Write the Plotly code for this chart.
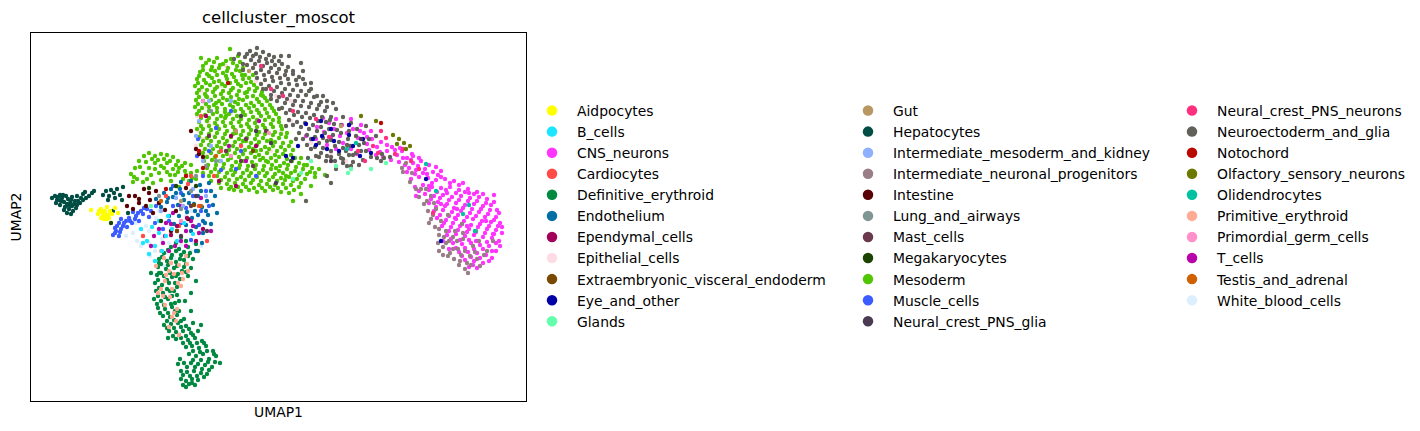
import plotly.graph_objects as go

categories = ["Aidpocytes","B_cells","CNS_neurons","Cardiocytes","Definitive_erythroid","Endothelium","Ependymal_cells","Epithelial_cells","Extraembryonic_visceral_endoderm","Eye_and_other","Glands",
"Gut","Hepatocytes","Intermediate_mesoderm_and_kidney","Intermediate_neuronal_progenitors","Intestine","Lung_and_airways","Mast_cells","Megakaryocytes","Mesoderm","Muscle_cells","Neural_crest_PNS_glia",
"Neural_crest_PNS_neurons","Neuroectoderm_and_glia","Notochord","Olfactory_sensory_neurons","Olidendrocytes","Primitive_erythroid","Primordial_germ_cells","T_cells","Testis_and_adrenal","White_blood_cells"]
colors = ["#FFFF00","#1CE6FF","#FF34FF","#FF4A46","#008941","#006FA6","#A30059","#FFDBE5","#7A4900","#0000A6","#63FFAC",
"#B79762","#004D43","#8FB0FF","#997D87","#5A0007","#809693","#6A3A4C","#1B4400","#4FC601","#3B5DFF","#4A3B53",
"#FF2F80","#61615A","#BA0900","#6B7900","#00C2A0","#FFAA92","#FF90C9","#B903AA","#D16100","#DDEFFF"]

adipocytes = [(67,187),(70,192),(72,186),(74,190),(76,194),(77,186),(79,190),(81,187),(73,182),(76,182),(70,183),(78,183),(68,190),(74,187),(71,189),(75,185),(60,191),(84,193),(87,188)]
b_cells = [(121,174),(128,168),(116,160),(124,155),(131,150),(118,147),(135,165),(141,172),(128,180),(110,172),(146,160),(153,178),(112,158),(137,185),(162,167),(124,140)]
cns_neurons = [(292,283),(298,278),(305,282),(303,272),(311,276),(316,268),(322,272),(327,263),(333,268),(336,257),(341,262),(346,254),(350,259),(356,250),(361,254),(366,246),(371,250),(376,243),(381,247),(345,246),(352,244),(360,241),(368,239),(320,282),(330,276),(340,270),(275,265),(285,262),(296,256),(305,252),(312,258),(320,252),(326,247),
(374,236),(382,238),(390,240),(398,236),(376,229),(385,231),(394,232),(402,229),(410,230),(380,222),(388,224),(397,223),(405,221),(414,222),(423,220),(432,218),(384,214),(392,216),(401,214),(410,213),(419,214),(428,211),(437,212),(446,209),(394,207),(403,205),(412,206),(421,204),(430,205),(439,203),(448,204),(456,202),(398,198),(407,199),(416,197),(425,198),(434,196),(443,197),(452,195),(460,196),(466,191),(403,190),(412,191),(421,189),(430,190),(439,188),(448,189),(457,187),(465,184),(406,183),(415,181),(424,183),(433,180),(442,182),(451,180),(460,179),(469,178),(411,175),(420,174),(429,175),(438,172),(447,174),(456,172),(465,171),(471,168),(416,166),(425,167),(434,165),(443,166),(452,164),(461,163),(468,160),(422,158),(431,157),(440,158),(449,156),(458,155),(465,150),(428,149),(437,149),(446,148),(455,146),(461,143),(434,141),(443,140),(452,138),(438,134),(446,133),(412,160),(418,152),(469,155),(471,174),(463,206),(382,245),(392,228),(407,226),(416,208),(426,192),(436,175),(445,160),(455,180),(462,167),(425,182),(410,197),(398,215),(385,205),
(378,233),(387,235),(396,227),(405,234),(384,227),(401,218),(410,224),(419,218),(428,216),(438,208),(388,210),(398,211),(406,209),(415,211),(425,208),(434,209),(443,207),(452,207),(400,202),(409,203),(418,201),(428,201),(437,200),(446,200),(455,198),(463,199),(405,194),(414,195),(423,193),(432,193),(441,192),(450,192),(459,191),(468,188),(409,186),(418,185),(427,186),(436,184),(445,185),(454,184),(463,181),(413,178),(422,178),(431,177),(440,176),(449,177),(458,175),(467,175),(418,170),(427,171),(436,169),(445,169),(454,168),(463,167),(420,162),(429,161),(438,161),(447,160),(456,159),(465,158),(425,153),(434,153),(443,152),(452,152),(461,150),(431,145),(440,144),(449,143),(458,140),(442,136),(388,243),(356,256),(364,251),(349,249),(338,251),(329,270),(336,264),(318,276),(309,265),(300,264),(293,269),(286,274),(372,243),(380,241),(369,253)]
cardiocytes = [(160,225),(176,160),(148,175),(168,195),(157,217),(190,250),(183,225),(170,285),(210,255),(112,165),(135,205)]
definitive_erythroid = [(150,164),(145,158),(155,160),(140,154),(148,152),(157,154),(165,157),(133,148),(141,146),(150,146),(159,148),(167,150),(128,142),(136,140),(145,139),(153,141),(162,142),(127,134),(135,132),(143,133),(151,130),(160,133),(126,126),(133,125),(141,124),(149,122),(157,125),(124,118),(131,116),(138,118),(146,114),(125,110),(132,108),(139,110),(146,106),(123,102),(130,100),(137,102),(144,98),(127,93),(134,92),(141,94),(148,90),(132,85),(139,84),(146,86),(153,82),(133,76),(140,77),(147,78),(155,75),(162,78),(138,70),(145,69),(152,70),(160,68),(167,70),(145,62),(150,63),(157,61),(164,63),(171,60),(155,54),(161,55),(168,53),(175,55),(182,50),(158,47),(165,45),(172,47),(178,42),(185,45),(189,38),(153,38),(160,38),(167,37),(174,36),(181,34),(150,30),(156,29),(163,30),(170,28),(176,27),(150,22),(155,20),(161,22),(167,21),(152,16),(158,17),(164,16),(147,37),(149,42),(137,63),(170,76),(160,90),(154,100),(160,108),(165,120),(128,128),(120,128),(145,125),(130,137),(153,134),(148,100),
(137,151),(145,150),(153,149),(131,144),(140,143),(149,142),(157,145),(128,138),(137,136),(146,135),(155,137),(130,128),(139,128),(147,127),(155,129),(127,121),(136,121),(144,118),(128,113),(136,112),(143,110),(127,105),(134,104),(141,105),(126,97),(133,96),(140,97),(129,88),(137,88),(144,90),(136,80),(143,81),(150,80),(136,73),(143,73),(150,74),(158,72),(142,65),(148,66),(155,65),(162,66),(152,58),(159,58),(166,58),(173,58),(162,50),(169,49),(176,50),(183,47),(162,41),(170,41),(177,39),(184,39),(156,34),(164,34),(171,32),(178,31),(152,26),(159,25),(166,25),(173,24),(155,14),(161,18)]
endothelium = [(130,194),(136,199),(142,204),(147,196),(153,201),(158,208),(163,197),(167,205),(171,194),(125,202),(133,208),(140,212),(149,212),(156,189),(161,183),(167,186),(174,178),(172,168),(165,174),(148,185),(138,185),(143,177),(176,200),(169,216),(160,220),(150,219),(177,186),(180,210),(182,196),(171,158),(165,150),(160,170),(155,176),(172,180),(184,205),(178,218),(186,188),(180,177),(145,208),(137,203),(152,206),(158,198),(164,190),(170,210),(128,198),(175,190)]
ependymal_cells = [(156,183),(146,175),(165,160),(172,172),(140,166),(200,265),(225,255),(205,215),(175,285),(188,220)]
epithelial_cells = [(168,270),(172,262),(175,295),(166,285),(178,278),(190,315),(200,288),(212,270),(228,290),(245,305),(260,280),(280,258),(300,248),(275,235),(315,240),(170,310),(165,255),(176,245),(183,265),(225,320),(260,300),(240,250),(250,270),(195,335),(165,300),(172,250)]
extraembryonic = [(163,196),(222,250),(146,170)]
eye_and_other = [(285,256),(282,262),(291,265),(296,252),(303,260),(308,250),(300,272),(318,266),(322,255),(332,262),(318,276),(329,245),(255,245),(267,255),(275,277),(410,160),(395,222),(262,243),(290,280),(340,248)]
glands = [(305,235),(317,228),(262,222),(320,232),(280,240),(340,232),(355,238),(270,228),(120,195)]
gut = [(218,330),(150,200),(310,275),(205,270)]
hepatocytes = [(21,203),(24,205),(27,201),(25,198),(29,206),(31,203),(33,199),(29,196),(35,205),(37,202),(39,198),(34,194),(38,192),(42,190),(41,195),(44,200),(41,204),(46,196),(46,205),(50,203),(49,198),(52,207),(55,203),(54,209),(58,205),(61,208),(63,210),(33,191),(36,188),(40,187),(30,200),(45,193),(72,206),(75,210),(78,205),(80,211),(83,208),(86,212),(84,203),(89,206),(91,201),(77,201),(92,214),(82,190),(97,188),(27,204),(32,206),(36,197),(40,201),(43,197),(38,195),(47,200),(52,201),(26,201)]
intermediate_mesoderm = [(168,280),(172,240),(175,205),(165,265),(180,255),(190,240),(162,212),(152,195),(145,203),(130,190),(178,300),(200,300)]
intermediate_neuronal = [(372,229),(379,219),(385,212),(388,204),(393,197),(397,190),(400,182),(404,174),(408,166),(412,154),(417,145),(423,142),(428,136),(434,132),(440,136),(446,142),(430,146),(422,152),(415,170),(410,180),(405,192),(400,205),(412,146),(418,160),(426,160),(434,150),(442,155),(437,128),(449,135),(375,238),(371,233),(424,170),(432,168),(448,160),(456,150),(408,150),(381,228),(395,212),(403,198),(417,186),(431,177),(445,170),(439,145),(453,146),(462,160),(396,200),(402,186),(408,172),(413,164),(419,148),(427,152),(436,138),(444,149),(422,164),(429,140),(415,158),(432,162),(407,158),(398,178),(390,212)]
intestine = [(104,205),(108,198),(113,212),(118,208),(96,195),(102,192),(125,210),(128,198),(134,191),(122,188),(115,195),(145,190),(155,213),(140,170),(168,247),(172,244),(165,252),(157,182),(160,270),(108,202),(119,201),(98,205)]
lung = [(165,225),(175,235),(150,192),(180,290),(160,210),(128,205),(185,240)]
mast_cells = [(195,250),(210,240),(215,262),(222,235),(178,265),(160,195),(235,270)]
megakaryocytes = [(80,178),(130,180),(118,213),(165,215),(145,215)]
mesoderm = [(178,341),(186,343),(195,340),(202,338),(172,335),(181,334),(189,336),(197,333),(206,335),(169,329),(176,327),(184,330),(192,328),(201,327),(209,330),(214,326),(166,322),(173,321),(181,323),(188,320),(196,322),(205,320),(212,322),(220,319),(164,315),(171,314),(179,316),(186,314),(194,315),(202,313),(210,315),(218,312),(226,313),(166,308),(174,307),(182,309),(190,307),(198,308),(206,306),(214,308),(222,305),(230,306),(165,301),(172,300),(180,301),(188,300),(196,301),(204,299),(212,301),(220,298),(228,299),(236,300),(164,294),(171,293),(178,294),(186,293),(194,292),(202,294),(210,292),(218,293),(226,291),(234,292),(241,293),(166,287),(174,286),(182,287),(190,285),(198,287),(206,285),(214,286),(222,284),(230,285),(238,284),(245,287),(168,279),(176,280),(184,278),(192,279),(200,278),(208,279),(216,277),(224,278),(232,276),(240,277),(248,279),(166,272),(172,272),(180,271),(188,272),(196,270),(204,271),(212,270),(220,271),(228,269),(236,270),(244,269),(251,272),(168,264),(176,263),(184,264),(192,263),(200,264),(208,262),(216,263),(224,262),(232,263),(240,261),(248,263),(255,264),(170,256),(178,256),(186,255),(194,257),(202,255),(210,256),(218,254),(226,256),(234,254),(242,255),(250,254),(258,255),(172,248),(180,248),(188,249),(196,247),(204,248),(212,247),(220,248),(228,246),(236,248),(244,246),(252,247),(260,246),(173,240),(181,241),(189,240),(197,241),(205,239),(213,240),(221,239),(229,241),(237,239),(245,240),(253,238),(261,240),(268,238),(276,236),(176,233),(184,232),(192,233),(200,231),(208,233),(216,231),(224,232),(232,231),(240,232),(248,230),(256,232),(264,230),(272,232),(279,229),(178,225),(186,225),(194,224),(202,226),(210,224),(218,225),(226,224),(234,225),(242,224),(250,223),(258,224),(266,222),(274,222),(188,218),(196,217),(204,218),(212,217),(220,218),(228,216),(236,217),(244,216),(252,217),(260,216),(268,214),(203,211),(210,210),(218,211),(226,209),(234,210),(242,211),(250,209),(258,208),(172,228),(180,220),(190,213),(198,212),(170,343),(209,339),(222,326),(232,305),(284,228),(288,232),(294,226),(280,215),(270,207),(262,200),(175,305),(185,298),(195,285),(205,268),(215,260),(225,250),(235,240),(245,233),(255,225),(199,352),(207,345),
(175,338),(183,339),(192,337),(200,342),(172,331),(180,331),(188,333),(196,330),(205,331),(212,333),(168,325),(178,325),(186,326),(195,325),(203,324),(211,326),(218,323),(167,318),(175,318),(183,319),(191,317),(199,318),(207,317),(215,318),(223,316),(168,311),(176,311),(184,312),(192,310),(200,311),(208,310),(216,309),(224,310),(231,309),(168,304),(176,304),(184,305),(192,303),(200,304),(208,302),(216,304),(226,302),(234,303),(167,297),(175,297),(183,296),(191,297),(199,296),(207,297),(215,296),(223,295),(231,296),(239,296),(168,290),(178,290),(186,289),(194,289),(204,290),(212,289),(220,289),(228,288),(236,288),(243,290),(170,283),(178,283),(186,282),(194,283),(202,282),(210,282),(218,281),(226,281),(234,281),(242,281),(248,283),(170,275),(178,275),(186,275),(194,275),(202,274),(210,275),(218,274),(226,274),(234,273),(242,274),(250,275),(170,268),(178,267),(186,268),(194,267),(202,267),(210,266),(218,267),(226,266),(234,267),(242,266),(250,267),(256,268),(172,260),(180,260),(188,259),(196,260),(204,259),(212,260),(220,258),(228,259),(236,260),(244,259),(252,258),(260,259),(174,252),(182,252),(190,253),(198,251),(206,252),(214,251),(222,252),(230,251),(238,252),(246,250),(254,251),(262,251),(176,244),(184,244),(192,245),(200,243),(208,244),(216,243),(224,244),(232,243),(240,243),(248,244),(256,242),(264,243),(270,243),(177,236),(185,236),(193,237),(201,235),(209,236),(217,235),(225,236),(233,235),(241,236),(249,235),(257,236),(265,234),(273,236),(281,233),(180,229),(188,229),(196,228),(204,229),(212,228),(220,228),(228,228),(236,228),(244,227),(252,228),(260,228),(268,226),(276,227),(284,224),(190,221),(198,221),(206,222),(214,221),(222,221),(230,220),(238,221),(246,220),(254,221),(262,220),(270,218),(200,214),(207,214),(215,214),(223,213),(231,213),(239,214),(247,213),(255,213),(263,211),
(100,227),(104,233),(108,240),(113,245),(118,248),(124,245),(130,247),(136,246),(142,244),(147,240),(106,222),(112,228),(118,233),(124,238),(130,235),(136,238),(142,232),(148,233),(154,230),(160,228),(152,222),(144,226),(136,229),(128,228),(120,226),(112,219),(102,219),(158,220),(165,222),(148,214),(130,221),(122,218),(140,220),(160,236),(166,230),(154,238),(103,224),(109,234),(115,239),(121,242),(127,241),(133,242),(139,240),(145,236),(151,235),(116,222),(124,232),(133,233),(139,226),(147,229),(155,226),(161,223)]
muscle_cells = [(82,166),(85,170),(88,165),(86,175),(90,172),(93,178),(90,182),(96,174),(98,183),(101,178),(105,185),(102,189),(108,180),(110,190),(113,193),(118,184),(124,178),(120,190),(125,195),(132,172),(138,180),(142,195),(150,208),(155,193),(162,205),(170,190),(168,176),(175,210),(167,262),(172,300),(178,250),(185,273),(200,290),(210,250),(190,231),(225,225),(166,245),(172,225),(205,232),(150,178),(160,161),(142,215),(178,195),(84,168),(89,169),(92,175),(95,180),(99,180),(104,182),(107,188),(112,187),(84,173),(88,178),(116,192)]
pns_glia = [(165,205),(225,270),(240,258),(300,240),(260,240),(245,218),(176,170),(150,165),(210,285),(330,262)]
pns_neurons = [(350,270),(327,250),(334,240),(347,248),(364,247),(372,252),(380,240),(402,188),(230,335),(240,312),(252,305),(262,290),(285,282),(298,264),(388,232),(355,263),(342,255)]
neuroectoderm = [(203,342),(208,347),(214,344),(219,350),(225,347),(226,353),(232,349),(238,346),(243,344),(212,337),(220,341),(228,340),(236,338),(244,336),(251,337),(257,334),(222,333),(230,331),(238,329),(246,328),(254,326),(262,327),(268,324),(226,323),(234,321),(242,320),(250,318),(258,317),(266,316),(274,317),(280,312),(235,312),(243,310),(251,308),(259,306),(267,305),(275,306),(283,304),(290,299),(246,300),(254,298),(262,296),(270,295),(278,294),(286,292),(294,290),(300,284),(255,288),(263,286),(271,284),(279,283),(287,280),(295,279),(303,277),(262,276),(270,274),(278,272),(286,270),(294,268),(302,266),(310,268),(317,262),(272,262),(280,262),(288,258),(296,260),(304,255),(312,253),(319,255),(325,248),(280,252),(290,248),(300,244),(310,243),(318,246),(328,256),(335,250),(340,244),(295,240),(305,232),(312,242),(322,239),(332,241),(258,345),(262,330),(250,345),(272,330),(296,300),(305,292),(312,284),(320,278),(326,272),(338,262),(346,243),(351,247),(359,244),(335,275),(345,265),(353,243),(248,292),(240,302),(232,312),(285,245),(277,243),(265,262),(255,275),(212,331),(296,225),(300,218),(275,200),(350,240),(316,235),
(216,347),(222,345),(229,344),(235,342),(241,340),(248,340),(216,336),(224,337),(232,335),(240,333),(248,332),(255,330),(225,328),(233,326),(241,324),(249,323),(257,322),(265,321),(272,322),(230,317),(238,315),(246,314),(254,312),(262,311),(270,310),(278,310),(286,305),(240,306),(248,304),(256,302),(264,300),(272,300),(280,298),(288,296),(296,294),(251,293),(259,291),(267,289),(275,288),(283,286),(291,284),(299,281),(258,281),(266,279),(274,278),(282,276),(290,274),(298,272),(306,271),(268,268),(276,266),(284,264),(292,263),(300,261),(308,259),(316,256),(276,256),(284,254),(292,253),(300,250),(308,247),(315,250),(322,246),(330,250),(288,244),(296,245),(304,240),(312,238),(320,235),(328,236),(270,338),(280,318),(292,305),(302,298),(310,276),(318,270),(325,265),(333,258)]
notochord = [(168,250),(197,318),(172,233),(135,212),(155,225),(350,278)]
olfactory = [(362,266),(368,262),(373,258),(366,257),(375,252),(379,255),(330,285),(345,280)]
olidendrocytes = [(405,210),(432,187),(438,196),(444,170),(395,237),(316,252),(325,258)]
primitive_erythroid = [(130,150),(133,143),(140,138),(138,130),(148,136),(143,127),(151,128),(147,118),(155,145),(156,137),(134,120),(130,112),(139,104),(134,96),(143,88),(145,80),(138,74),(148,66),(150,115),(157,130),(132,105),(125,135),(141,112),(135,126),(152,122),(127,108),(146,92),(141,84)]
primordial_germ = [(172,300),(238,268),(200,245),(150,180)]
t_cells = [(128,172),(134,165),(140,177),(146,170),(150,160),(155,170),(160,180),(132,158),(144,155),(138,150),(123,165),(162,175),(168,168),(150,195),(170,203),(180,170),(198,255),(215,240),(228,280),(142,188),(155,155),(120,155),(135,178)]
testis = [(130,200),(185,245),(170,195)]
white_blood_cells = [(95,165),(102,168),(106,160),(112,165),(118,158),(124,150),(131,162),(138,158),(146,150),(152,148),(160,150),(128,142),(135,148),(110,155),(119,145),(140,165),(150,156),(163,158),(155,185),(170,170),(128,190),(115,175),(105,178),(118,170),(143,143),(123,155),(133,135),(170,155),(162,142),(125,183),(145,205),(160,190)]

series_points = [adipocytes,b_cells,cns_neurons,cardiocytes,definitive_erythroid,endothelium,ependymal_cells,epithelial_cells,extraembryonic,eye_and_other,glands,
gut,hepatocytes,intermediate_mesoderm,intermediate_neuronal,intestine,lung,mast_cells,megakaryocytes,mesoderm,muscle_cells,pns_glia,
pns_neurons,neuroectoderm,notochord,olfactory,olidendrocytes,primitive_erythroid,primordial_germ,t_cells,testis,white_blood_cells]

PAGE_MARGIN = 8
W, H = 1420 - PAGE_MARGIN, 431 - PAGE_MARGIN
def fx(px):
    return (px - PAGE_MARGIN) / W
def fy(py):
    return 1 - (py - PAGE_MARGIN) / H

fig = go.Figure()
draw_order = sorted(range(len(categories)), key=lambda i: -len(series_points[i]))
back = ("White_blood_cells", "Epithelial_cells")
draw_order = [categories.index(b) for b in back] + [i for i in draw_order if categories[i] not in back]
for i in draw_order:
    pts = series_points[i]
    fig.add_trace(go.Scatter(x=[p[0] for p in pts], y=[p[1] for p in pts], mode="markers", name=categories[i], showlegend=False,
                             marker=dict(color=colors[i], size=4.4, line=dict(width=0))))
legend_ids = ["legend"]*11 + ["legend2"]*11 + ["legend3"]*10
for i, c in enumerate(categories):
    fig.add_trace(go.Scatter(x=[None], y=[None], mode="markers", name=c, legend=legend_ids[i], legendgroup=c,
                             marker=dict(color=colors[i], size=10.5)))

font = dict(family="DejaVu Sans", size=13.9, color="#000")
def legend_cfg(px):
    return dict(x=fx(px), y=fy(95), xanchor="left", yanchor="top", bgcolor="rgba(0,0,0,0)", itemwidth=40,
                tracegroupgap=0, font=font, itemclick=False, itemdoubleclick=False)
axis = dict(showticklabels=False, ticks="", showgrid=False, zeroline=False, showline=True, linecolor="#000", linewidth=1, mirror=True)
fig.update_layout(
    width=W, height=H, margin=dict(l=0, r=0, t=0, b=0), paper_bgcolor="white", plot_bgcolor="white", showlegend=True,
    font=font,
    title=dict(text="cellcluster_moscot", font=dict(family="DejaVu Sans", size=16.5, color="#000"), x=fx((31+526)/2), xanchor="center", y=fy(17.5), yanchor="middle"),
    xaxis=dict(axis, domain=[fx(31), fx(526)], range=[0, 495], title=dict(text="UMAP1", standoff=6, font=font)),
    yaxis=dict(axis, domain=[fy(401), fy(33)], range=[0, 368], title=dict(text="UMAP2", standoff=6, font=font)),
    legend=legend_cfg(527), legend2=legend_cfg(843), legend3=legend_cfg(1167),
)
fig.write_html("out.html")
